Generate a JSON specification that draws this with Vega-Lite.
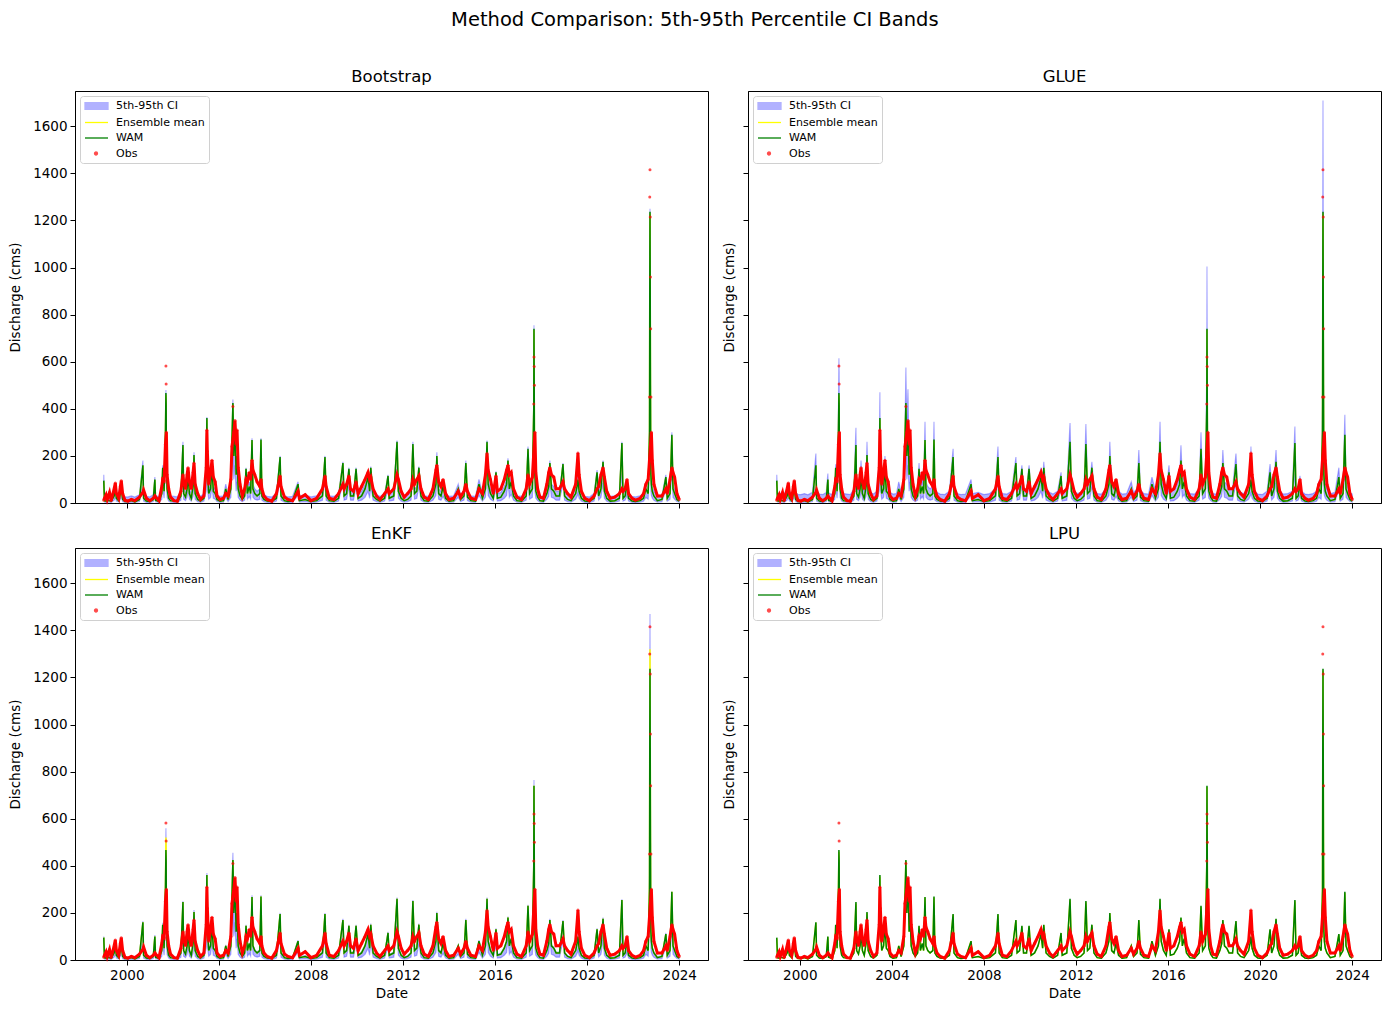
{
  "$schema": "https://vega.github.io/schema/vega-lite/v6.json",
  "background": "white",
  "padding": {"left": 8, "top": 9, "right": 9, "bottom": 8},
  "title": {"text": "Method Comparison: 5th-95th Percentile CI Bands", "fontSize": 19.5, "fontWeight": "normal", "font": "DejaVu Sans", "anchor": "middle", "offset": 38, "color": "black"},
  "config": {
    "font": "DejaVu Sans",
    "view": {"stroke": "black", "strokeWidth": 1},
    "axis": {"grid": false, "domainColor": "black", "tickColor": "black", "labelColor": "black", "titleColor": "black", "labelFontSize": 13.5, "titleFontSize": 13.5, "titleFontWeight": "normal", "tickSize": 5, "labelPadding": 3, "labelFont": "DejaVu Sans", "titleFont": "DejaVu Sans"},
    "title": {"fontSize": 16.5, "fontWeight": "normal", "offset": 6, "color": "black"},
    "legend": {"orient": "top-left", "offset": 5, "padding": 4, "strokeColor": "#d0d0d0", "fillColor": "white", "cornerRadius": 3, "labelFontSize": 11, "symbolSize": 100, "labelOffset": 20, "rowPadding": 4.5, "symbolStrokeWidth": 1.3}
  },
  "datasets": {
    "flow": [
      {"t":1999.00,"w":95,"o":12,"lo":50,"b":120,"g":120,"e":100,"l":97,"m":92,"n":95},
      {"t":1999.03,"w":10,"o":20,"lo":4,"b":30,"g":40,"e":14,"l":12,"m":10,"n":10},
      {"t":1999.10,"w":8,"o":35,"lo":3,"b":28,"g":38,"e":12,"l":10,"m":8,"n":8},
      {"t":1999.15,"w":12,"o":15,"lo":5,"b":32,"g":42,"e":16,"l":14,"m":12,"n":12},
      {"t":1999.25,"w":10,"o":45,"lo":4,"b":30,"g":40,"e":14,"l":12,"m":10,"n":10},
      {"t":1999.32,"w":8,"o":10,"lo":3,"b":28,"g":38,"e":12,"l":10,"m":8,"n":8},
      {"t":1999.45,"w":30,"o":60,"lo":12,"b":50,"g":60,"e":34,"l":32,"m":30,"n":30},
      {"t":1999.50,"w":60,"o":85,"lo":24,"b":80,"g":85,"e":64,"l":62,"m":60,"n":60},
      {"t":1999.55,"w":20,"o":40,"lo":8,"b":40,"g":50,"e":24,"l":22,"m":20,"n":20},
      {"t":1999.65,"w":10,"o":20,"lo":4,"b":30,"g":40,"e":14,"l":12,"m":10,"n":10},
      {"t":1999.72,"w":40,"o":70,"lo":16,"b":60,"g":70,"e":44,"l":42,"m":40,"n":40},
      {"t":1999.76,"w":70,"o":95,"lo":28,"b":85,"g":95,"e":74,"l":72,"m":70,"n":70},
      {"t":1999.82,"w":15,"o":40,"lo":6,"b":35,"g":45,"e":19,"l":17,"m":15,"n":15},
      {"t":1999.92,"w":6,"o":12,"lo":2,"b":26,"g":36,"e":10,"l":8,"m":6,"n":6},
      {"t":2000.05,"w":6,"o":8,"lo":2,"b":26,"g":36,"e":10,"l":8,"m":6,"n":6},
      {"t":2000.20,"w":10,"o":15,"lo":4,"b":30,"g":40,"e":14,"l":12,"m":10,"n":10},
      {"t":2000.35,"w":5,"o":10,"lo":2,"b":25,"g":35,"e":9,"l":7,"m":5,"n":5},
      {"t":2000.55,"w":15,"o":25,"lo":6,"b":35,"g":45,"e":19,"l":17,"m":15,"n":15},
      {"t":2000.70,"w":160,"o":45,"lo":90,"b":180,"g":210,"e":165,"l":162,"m":158,"n":160},
      {"t":2000.73,"w":20,"o":55,"lo":8,"b":40,"g":50,"e":24,"l":22,"m":20,"n":20},
      {"t":2000.85,"w":8,"o":20,"lo":3,"b":28,"g":38,"e":12,"l":10,"m":8,"n":8},
      {"t":2001.00,"w":6,"o":10,"lo":2,"b":26,"g":36,"e":10,"l":8,"m":6,"n":6},
      {"t":2001.15,"w":15,"o":20,"lo":6,"b":35,"g":45,"e":19,"l":17,"m":15,"n":15},
      {"t":2001.22,"w":100,"o":30,"lo":50,"b":110,"g":125,"e":106,"l":102,"m":98,"n":100},
      {"t":2001.25,"w":12,"o":25,"lo":5,"b":32,"g":42,"e":16,"l":14,"m":12,"n":12},
      {"t":2001.40,"w":6,"o":10,"lo":2,"b":26,"g":36,"e":10,"l":8,"m":6,"n":6},
      {"t":2001.52,"w":40,"o":70,"lo":16,"b":60,"g":70,"e":44,"l":42,"m":40,"n":40},
      {"t":2001.56,"w":150,"o":100,"lo":75,"b":160,"g":165,"e":158,"l":152,"m":148,"n":150},
      {"t":2001.62,"w":50,"o":95,"lo":20,"b":70,"g":80,"e":54,"l":52,"m":50,"n":50},
      {"t":2001.68,"w":300,"o":250,"lo":150,"b":320,"g":400,"e":330,"l":302,"m":300,"n":320},
      {"t":2001.70,"w":467,"o":582,"lo":300,"b":480,"g":615,"e":560,"l":470,"m":460,"n":520},
      {"t":2001.71,"w":420,"o":505,"lo":250,"b":440,"g":560,"e":500,"l":422,"m":420,"n":470},
      {"t":2001.72,"w":200,"o":300,"lo":100,"b":220,"g":280,"e":240,"l":202,"m":200,"n":220},
      {"t":2001.75,"w":60,"o":120,"lo":24,"b":80,"g":90,"e":70,"l":62,"m":60,"n":65},
      {"t":2001.82,"w":20,"o":60,"lo":8,"b":40,"g":50,"e":24,"l":22,"m":20,"n":20},
      {"t":2001.90,"w":10,"o":25,"lo":4,"b":30,"g":40,"e":14,"l":12,"m":10,"n":10},
      {"t":2002.05,"w":8,"o":10,"lo":3,"b":28,"g":38,"e":12,"l":10,"m":8,"n":8},
      {"t":2002.20,"w":6,"o":8,"lo":2,"b":26,"g":36,"e":10,"l":8,"m":6,"n":6},
      {"t":2002.35,"w":30,"o":50,"lo":12,"b":50,"g":60,"e":34,"l":32,"m":30,"n":30},
      {"t":2002.44,"w":246,"o":120,"lo":120,"b":260,"g":320,"e":250,"l":248,"m":240,"n":246},
      {"t":2002.47,"w":40,"o":90,"lo":16,"b":60,"g":70,"e":44,"l":42,"m":40,"n":40},
      {"t":2002.55,"w":25,"o":60,"lo":10,"b":45,"g":55,"e":29,"l":27,"m":25,"n":25},
      {"t":2002.62,"w":60,"o":120,"lo":24,"b":80,"g":90,"e":64,"l":62,"m":60,"n":60},
      {"t":2002.66,"w":127,"o":150,"lo":60,"b":140,"g":180,"e":135,"l":129,"m":125,"n":127},
      {"t":2002.72,"w":40,"o":90,"lo":16,"b":60,"g":70,"e":44,"l":42,"m":40,"n":40},
      {"t":2002.80,"w":20,"o":60,"lo":8,"b":40,"g":50,"e":24,"l":22,"m":20,"n":20},
      {"t":2002.88,"w":70,"o":130,"lo":28,"b":90,"g":100,"e":74,"l":72,"m":70,"n":70},
      {"t":2002.92,"w":204,"o":170,"lo":100,"b":215,"g":260,"e":212,"l":206,"m":200,"n":204},
      {"t":2002.97,"w":40,"o":80,"lo":16,"b":60,"g":70,"e":44,"l":42,"m":40,"n":40},
      {"t":2003.08,"w":15,"o":40,"lo":6,"b":35,"g":45,"e":19,"l":17,"m":15,"n":15},
      {"t":2003.20,"w":8,"o":15,"lo":3,"b":28,"g":38,"e":12,"l":10,"m":8,"n":8},
      {"t":2003.35,"w":20,"o":30,"lo":8,"b":40,"g":50,"e":24,"l":22,"m":20,"n":20},
      {"t":2003.45,"w":120,"o":150,"lo":50,"b":140,"g":170,"e":130,"l":122,"m":120,"n":120},
      {"t":2003.48,"w":361,"o":310,"lo":200,"b":365,"g":470,"e":370,"l":363,"m":355,"n":360},
      {"t":2003.50,"w":150,"o":220,"lo":60,"b":170,"g":200,"e":160,"l":152,"m":150,"n":150},
      {"t":2003.56,"w":40,"o":80,"lo":16,"b":60,"g":70,"e":44,"l":42,"m":40,"n":40},
      {"t":2003.64,"w":60,"o":130,"lo":24,"b":80,"g":90,"e":64,"l":62,"m":60,"n":60},
      {"t":2003.70,"w":150,"o":182,"lo":70,"b":175,"g":200,"e":158,"l":152,"m":148,"n":150},
      {"t":2003.76,"w":50,"o":110,"lo":20,"b":70,"g":80,"e":54,"l":52,"m":50,"n":50},
      {"t":2003.84,"w":40,"o":90,"lo":16,"b":60,"g":70,"e":44,"l":42,"m":40,"n":40},
      {"t":2003.92,"w":15,"o":30,"lo":6,"b":35,"g":45,"e":19,"l":17,"m":15,"n":15},
      {"t":2004.05,"w":8,"o":15,"lo":3,"b":28,"g":38,"e":12,"l":10,"m":8,"n":8},
      {"t":2004.20,"w":10,"o":20,"lo":4,"b":30,"g":40,"e":14,"l":12,"m":10,"n":10},
      {"t":2004.30,"w":60,"o":40,"lo":24,"b":80,"g":90,"e":64,"l":62,"m":60,"n":60},
      {"t":2004.40,"w":15,"o":30,"lo":6,"b":35,"g":45,"e":19,"l":17,"m":15,"n":15},
      {"t":2004.52,"w":60,"o":100,"lo":24,"b":80,"g":90,"e":64,"l":62,"m":60,"n":60},
      {"t":2004.57,"w":270,"o":240,"lo":130,"b":285,"g":300,"e":280,"l":272,"m":265,"n":270},
      {"t":2004.61,"w":425,"o":410,"lo":250,"b":440,"g":575,"e":455,"l":427,"m":420,"n":425},
      {"t":2004.65,"w":200,"o":300,"lo":100,"b":220,"g":300,"e":230,"l":202,"m":200,"n":210},
      {"t":2004.70,"w":330,"o":350,"lo":160,"b":345,"g":483,"e":350,"l":332,"m":325,"n":330},
      {"t":2004.75,"w":120,"o":250,"lo":50,"b":140,"g":170,"e":150,"l":122,"m":120,"n":125},
      {"t":2004.79,"w":200,"o":310,"lo":90,"b":210,"g":260,"e":230,"l":202,"m":200,"n":205},
      {"t":2004.84,"w":60,"o":150,"lo":24,"b":80,"g":90,"e":70,"l":62,"m":60,"n":60},
      {"t":2004.92,"w":30,"o":80,"lo":12,"b":50,"g":60,"e":34,"l":32,"m":30,"n":30},
      {"t":2005.02,"w":15,"o":30,"lo":6,"b":35,"g":45,"e":19,"l":17,"m":15,"n":15},
      {"t":2005.12,"w":30,"o":60,"lo":12,"b":50,"g":60,"e":34,"l":32,"m":30,"n":30},
      {"t":2005.18,"w":145,"o":100,"lo":70,"b":150,"g":170,"e":150,"l":147,"m":142,"n":145},
      {"t":2005.24,"w":40,"o":90,"lo":16,"b":60,"g":70,"e":44,"l":42,"m":40,"n":40},
      {"t":2005.32,"w":70,"o":130,"lo":28,"b":90,"g":100,"e":74,"l":72,"m":70,"n":70},
      {"t":2005.38,"w":40,"o":100,"lo":16,"b":60,"g":70,"e":44,"l":42,"m":40,"n":40},
      {"t":2005.44,"w":268,"o":182,"lo":130,"b":275,"g":345,"e":275,"l":270,"m":265,"n":268},
      {"t":2005.48,"w":60,"o":140,"lo":24,"b":80,"g":90,"e":64,"l":62,"m":60,"n":60},
      {"t":2005.56,"w":40,"o":120,"lo":16,"b":60,"g":70,"e":44,"l":42,"m":40,"n":40},
      {"t":2005.66,"w":30,"o":90,"lo":12,"b":50,"g":60,"e":34,"l":32,"m":30,"n":30},
      {"t":2005.78,"w":40,"o":70,"lo":16,"b":60,"g":70,"e":44,"l":42,"m":40,"n":40},
      {"t":2005.83,"w":270,"o":100,"lo":130,"b":275,"g":345,"e":275,"l":272,"m":265,"n":270},
      {"t":2005.87,"w":30,"o":60,"lo":12,"b":50,"g":60,"e":34,"l":32,"m":30,"n":30},
      {"t":2005.96,"w":15,"o":30,"lo":6,"b":35,"g":45,"e":19,"l":17,"m":15,"n":15},
      {"t":2006.10,"w":8,"o":15,"lo":3,"b":28,"g":38,"e":12,"l":10,"m":8,"n":8},
      {"t":2006.30,"w":6,"o":8,"lo":2,"b":26,"g":36,"e":10,"l":8,"m":6,"n":6},
      {"t":2006.50,"w":20,"o":40,"lo":8,"b":40,"g":50,"e":24,"l":22,"m":20,"n":20},
      {"t":2006.66,"w":195,"o":115,"lo":95,"b":200,"g":230,"e":200,"l":197,"m":192,"n":195},
      {"t":2006.70,"w":30,"o":70,"lo":12,"b":50,"g":60,"e":34,"l":32,"m":30,"n":30},
      {"t":2006.85,"w":10,"o":25,"lo":4,"b":30,"g":40,"e":14,"l":12,"m":10,"n":10},
      {"t":2007.00,"w":6,"o":15,"lo":2,"b":26,"g":36,"e":10,"l":8,"m":6,"n":6},
      {"t":2007.20,"w":8,"o":10,"lo":3,"b":28,"g":38,"e":12,"l":10,"m":8,"n":8},
      {"t":2007.44,"w":80,"o":50,"lo":32,"b":90,"g":100,"e":84,"l":82,"m":80,"n":80},
      {"t":2007.50,"w":10,"o":20,"lo":4,"b":30,"g":40,"e":14,"l":12,"m":10,"n":10},
      {"t":2007.75,"w":15,"o":35,"lo":6,"b":35,"g":45,"e":19,"l":17,"m":15,"n":15},
      {"t":2008.00,"w":6,"o":10,"lo":2,"b":26,"g":36,"e":10,"l":8,"m":6,"n":6},
      {"t":2008.25,"w":10,"o":20,"lo":4,"b":30,"g":40,"e":14,"l":12,"m":10,"n":10},
      {"t":2008.50,"w":30,"o":60,"lo":12,"b":50,"g":60,"e":34,"l":32,"m":30,"n":30},
      {"t":2008.61,"w":195,"o":115,"lo":95,"b":200,"g":240,"e":200,"l":197,"m":192,"n":195},
      {"t":2008.66,"w":30,"o":70,"lo":12,"b":50,"g":60,"e":34,"l":32,"m":30,"n":30},
      {"t":2008.80,"w":10,"o":20,"lo":4,"b":30,"g":40,"e":14,"l":12,"m":10,"n":10},
      {"t":2009.00,"w":8,"o":15,"lo":3,"b":28,"g":38,"e":12,"l":10,"m":8,"n":8},
      {"t":2009.20,"w":20,"o":40,"lo":8,"b":40,"g":50,"e":24,"l":22,"m":20,"n":20},
      {"t":2009.39,"w":170,"o":80,"lo":85,"b":175,"g":195,"e":175,"l":172,"m":168,"n":170},
      {"t":2009.44,"w":30,"o":60,"lo":12,"b":50,"g":60,"e":34,"l":32,"m":30,"n":30},
      {"t":2009.55,"w":40,"o":80,"lo":16,"b":60,"g":70,"e":44,"l":42,"m":40,"n":40},
      {"t":2009.65,"w":145,"o":115,"lo":70,"b":150,"g":160,"e":150,"l":147,"m":142,"n":145},
      {"t":2009.72,"w":30,"o":60,"lo":12,"b":50,"g":60,"e":34,"l":32,"m":30,"n":30},
      {"t":2009.85,"w":30,"o":50,"lo":12,"b":50,"g":60,"e":34,"l":32,"m":30,"n":30},
      {"t":2009.96,"w":145,"o":90,"lo":70,"b":150,"g":160,"e":150,"l":147,"m":142,"n":145},
      {"t":2010.05,"w":20,"o":40,"lo":8,"b":40,"g":50,"e":24,"l":22,"m":20,"n":20},
      {"t":2010.20,"w":30,"o":70,"lo":12,"b":50,"g":60,"e":34,"l":32,"m":30,"n":30},
      {"t":2010.35,"w":60,"o":100,"lo":24,"b":80,"g":90,"e":64,"l":62,"m":60,"n":60},
      {"t":2010.48,"w":110,"o":130,"lo":50,"b":130,"g":150,"e":116,"l":112,"m":108,"n":110},
      {"t":2010.55,"w":50,"o":100,"lo":20,"b":70,"g":80,"e":54,"l":52,"m":50,"n":50},
      {"t":2010.60,"w":150,"o":110,"lo":70,"b":155,"g":175,"e":155,"l":152,"m":148,"n":150},
      {"t":2010.70,"w":30,"o":60,"lo":12,"b":50,"g":60,"e":34,"l":32,"m":30,"n":30},
      {"t":2010.85,"w":15,"o":30,"lo":6,"b":35,"g":45,"e":19,"l":17,"m":15,"n":15},
      {"t":2011.00,"w":8,"o":15,"lo":3,"b":28,"g":38,"e":12,"l":10,"m":8,"n":8},
      {"t":2011.20,"w":20,"o":40,"lo":8,"b":40,"g":50,"e":24,"l":22,"m":20,"n":20},
      {"t":2011.35,"w":115,"o":60,"lo":55,"b":120,"g":130,"e":120,"l":117,"m":113,"n":115},
      {"t":2011.40,"w":20,"o":40,"lo":8,"b":40,"g":50,"e":24,"l":22,"m":20,"n":20},
      {"t":2011.60,"w":30,"o":60,"lo":12,"b":50,"g":60,"e":34,"l":32,"m":30,"n":30},
      {"t":2011.74,"w":260,"o":120,"lo":130,"b":265,"g":340,"e":265,"l":262,"m":255,"n":260},
      {"t":2011.80,"w":50,"o":100,"lo":20,"b":70,"g":80,"e":54,"l":52,"m":50,"n":50},
      {"t":2011.92,"w":20,"o":50,"lo":8,"b":40,"g":50,"e":24,"l":22,"m":20,"n":20},
      {"t":2012.05,"w":10,"o":25,"lo":4,"b":30,"g":40,"e":14,"l":12,"m":10,"n":10},
      {"t":2012.20,"w":15,"o":40,"lo":6,"b":35,"g":45,"e":19,"l":17,"m":15,"n":15},
      {"t":2012.35,"w":30,"o":60,"lo":12,"b":50,"g":60,"e":34,"l":32,"m":30,"n":30},
      {"t":2012.43,"w":250,"o":100,"lo":120,"b":260,"g":335,"e":255,"l":252,"m":245,"n":250},
      {"t":2012.50,"w":40,"o":80,"lo":16,"b":60,"g":70,"e":44,"l":42,"m":40,"n":40},
      {"t":2012.60,"w":50,"o":100,"lo":20,"b":70,"g":80,"e":54,"l":52,"m":50,"n":50},
      {"t":2012.69,"w":150,"o":115,"lo":70,"b":155,"g":175,"e":155,"l":152,"m":148,"n":150},
      {"t":2012.78,"w":30,"o":60,"lo":12,"b":50,"g":60,"e":34,"l":32,"m":30,"n":30},
      {"t":2012.92,"w":10,"o":25,"lo":4,"b":30,"g":40,"e":14,"l":12,"m":10,"n":10},
      {"t":2013.10,"w":8,"o":15,"lo":3,"b":28,"g":38,"e":12,"l":10,"m":8,"n":8},
      {"t":2013.30,"w":30,"o":60,"lo":12,"b":50,"g":60,"e":34,"l":32,"m":30,"n":30},
      {"t":2013.43,"w":80,"o":140,"lo":32,"b":100,"g":110,"e":84,"l":82,"m":80,"n":80},
      {"t":2013.47,"w":200,"o":160,"lo":100,"b":215,"g":260,"e":205,"l":202,"m":198,"n":200},
      {"t":2013.55,"w":40,"o":90,"lo":16,"b":60,"g":70,"e":44,"l":42,"m":40,"n":40},
      {"t":2013.65,"w":30,"o":70,"lo":12,"b":50,"g":60,"e":34,"l":32,"m":30,"n":30},
      {"t":2013.74,"w":70,"o":100,"lo":28,"b":90,"g":100,"e":74,"l":72,"m":70,"n":70},
      {"t":2013.85,"w":20,"o":40,"lo":8,"b":40,"g":50,"e":24,"l":22,"m":20,"n":20},
      {"t":2014.00,"w":8,"o":15,"lo":3,"b":28,"g":38,"e":12,"l":10,"m":8,"n":8},
      {"t":2014.20,"w":10,"o":20,"lo":4,"b":30,"g":40,"e":14,"l":12,"m":10,"n":10},
      {"t":2014.40,"w":60,"o":50,"lo":24,"b":80,"g":90,"e":64,"l":62,"m":60,"n":60},
      {"t":2014.50,"w":15,"o":25,"lo":6,"b":35,"g":45,"e":19,"l":17,"m":15,"n":15},
      {"t":2014.65,"w":30,"o":50,"lo":12,"b":50,"g":60,"e":34,"l":32,"m":30,"n":30},
      {"t":2014.73,"w":170,"o":80,"lo":85,"b":180,"g":225,"e":175,"l":172,"m":168,"n":170},
      {"t":2014.80,"w":25,"o":50,"lo":10,"b":45,"g":55,"e":29,"l":27,"m":25,"n":25},
      {"t":2014.95,"w":10,"o":20,"lo":4,"b":30,"g":40,"e":14,"l":12,"m":10,"n":10},
      {"t":2015.15,"w":8,"o":15,"lo":3,"b":28,"g":38,"e":12,"l":10,"m":8,"n":8},
      {"t":2015.30,"w":80,"o":60,"lo":32,"b":100,"g":110,"e":84,"l":82,"m":80,"n":80},
      {"t":2015.45,"w":20,"o":40,"lo":8,"b":40,"g":50,"e":24,"l":22,"m":20,"n":20},
      {"t":2015.58,"w":60,"o":120,"lo":24,"b":80,"g":90,"e":64,"l":62,"m":60,"n":60},
      {"t":2015.65,"w":260,"o":210,"lo":130,"b":265,"g":345,"e":265,"l":262,"m":255,"n":260},
      {"t":2015.70,"w":80,"o":140,"lo":32,"b":100,"g":110,"e":84,"l":82,"m":80,"n":80},
      {"t":2015.80,"w":40,"o":100,"lo":16,"b":60,"g":70,"e":44,"l":42,"m":40,"n":40},
      {"t":2015.92,"w":20,"o":40,"lo":8,"b":40,"g":50,"e":24,"l":22,"m":20,"n":20},
      {"t":2016.04,"w":130,"o":115,"lo":60,"b":135,"g":160,"e":135,"l":132,"m":128,"n":130},
      {"t":2016.10,"w":20,"o":50,"lo":8,"b":40,"g":50,"e":24,"l":22,"m":20,"n":20},
      {"t":2016.25,"w":25,"o":60,"lo":10,"b":45,"g":55,"e":29,"l":27,"m":25,"n":25},
      {"t":2016.40,"w":50,"o":100,"lo":20,"b":70,"g":80,"e":54,"l":52,"m":50,"n":50},
      {"t":2016.50,"w":80,"o":140,"lo":32,"b":100,"g":110,"e":84,"l":82,"m":80,"n":80},
      {"t":2016.56,"w":180,"o":160,"lo":90,"b":190,"g":245,"e":185,"l":182,"m":178,"n":180},
      {"t":2016.62,"w":60,"o":120,"lo":24,"b":80,"g":90,"e":64,"l":62,"m":60,"n":60},
      {"t":2016.70,"w":90,"o":130,"lo":36,"b":110,"g":120,"e":94,"l":92,"m":90,"n":90},
      {"t":2016.80,"w":30,"o":60,"lo":12,"b":50,"g":60,"e":34,"l":32,"m":30,"n":30},
      {"t":2016.95,"w":10,"o":25,"lo":4,"b":30,"g":40,"e":14,"l":12,"m":10,"n":10},
      {"t":2017.15,"w":8,"o":15,"lo":3,"b":28,"g":38,"e":12,"l":10,"m":8,"n":8},
      {"t":2017.35,"w":30,"o":60,"lo":12,"b":50,"g":60,"e":34,"l":32,"m":30,"n":30},
      {"t":2017.43,"w":230,"o":120,"lo":110,"b":240,"g":300,"e":235,"l":232,"m":225,"n":230},
      {"t":2017.50,"w":40,"o":80,"lo":16,"b":60,"g":70,"e":44,"l":42,"m":40,"n":40},
      {"t":2017.62,"w":60,"o":110,"lo":24,"b":80,"g":90,"e":64,"l":62,"m":60,"n":60},
      {"t":2017.68,"w":400,"o":420,"lo":200,"b":420,"g":550,"e":420,"l":402,"m":395,"n":400},
      {"t":2017.69,"w":740,"o":620,"lo":450,"b":755,"g":1005,"e":765,"l":745,"m":735,"n":740},
      {"t":2017.70,"w":500,"o":580,"lo":250,"b":520,"g":700,"e":530,"l":502,"m":495,"n":500},
      {"t":2017.71,"w":250,"o":500,"lo":120,"b":270,"g":350,"e":270,"l":252,"m":248,"n":250},
      {"t":2017.73,"w":120,"o":300,"lo":50,"b":140,"g":170,"e":130,"l":122,"m":120,"n":120},
      {"t":2017.77,"w":50,"o":130,"lo":20,"b":70,"g":80,"e":54,"l":52,"m":50,"n":50},
      {"t":2017.85,"w":25,"o":60,"lo":10,"b":45,"g":55,"e":29,"l":27,"m":25,"n":25},
      {"t":2017.95,"w":10,"o":25,"lo":4,"b":30,"g":40,"e":14,"l":12,"m":10,"n":10},
      {"t":2018.10,"w":8,"o":20,"lo":3,"b":28,"g":38,"e":12,"l":10,"m":8,"n":8},
      {"t":2018.25,"w":40,"o":80,"lo":16,"b":60,"g":70,"e":44,"l":42,"m":40,"n":40},
      {"t":2018.33,"w":70,"o":130,"lo":28,"b":90,"g":100,"e":74,"l":72,"m":70,"n":70},
      {"t":2018.38,"w":170,"o":150,"lo":85,"b":180,"g":225,"e":175,"l":172,"m":168,"n":170},
      {"t":2018.45,"w":60,"o":120,"lo":24,"b":80,"g":90,"e":64,"l":62,"m":60,"n":60},
      {"t":2018.55,"w":50,"o":110,"lo":20,"b":70,"g":80,"e":54,"l":52,"m":50,"n":50},
      {"t":2018.65,"w":30,"o":60,"lo":12,"b":50,"g":60,"e":34,"l":32,"m":30,"n":30},
      {"t":2018.80,"w":30,"o":60,"lo":12,"b":50,"g":60,"e":34,"l":32,"m":30,"n":30},
      {"t":2018.95,"w":165,"o":90,"lo":80,"b":170,"g":210,"e":170,"l":167,"m":163,"n":165},
      {"t":2019.02,"w":30,"o":60,"lo":12,"b":50,"g":60,"e":34,"l":32,"m":30,"n":30},
      {"t":2019.15,"w":15,"o":40,"lo":6,"b":35,"g":45,"e":19,"l":17,"m":15,"n":15},
      {"t":2019.30,"w":10,"o":25,"lo":4,"b":30,"g":40,"e":14,"l":12,"m":10,"n":10},
      {"t":2019.50,"w":40,"o":80,"lo":16,"b":60,"g":70,"e":44,"l":42,"m":40,"n":40},
      {"t":2019.58,"w":80,"o":180,"lo":32,"b":100,"g":110,"e":84,"l":82,"m":80,"n":80},
      {"t":2019.60,"w":100,"o":212,"lo":45,"b":215,"g":240,"e":110,"l":102,"m":100,"n":100},
      {"t":2019.65,"w":50,"o":120,"lo":20,"b":70,"g":80,"e":54,"l":52,"m":50,"n":50},
      {"t":2019.75,"w":20,"o":50,"lo":8,"b":40,"g":50,"e":24,"l":22,"m":20,"n":20},
      {"t":2019.90,"w":8,"o":20,"lo":3,"b":28,"g":38,"e":12,"l":10,"m":8,"n":8},
      {"t":2020.10,"w":6,"o":10,"lo":2,"b":26,"g":36,"e":10,"l":8,"m":6,"n":6},
      {"t":2020.30,"w":20,"o":30,"lo":8,"b":40,"g":50,"e":24,"l":22,"m":20,"n":20},
      {"t":2020.43,"w":130,"o":60,"lo":60,"b":140,"g":165,"e":135,"l":132,"m":128,"n":130},
      {"t":2020.50,"w":30,"o":70,"lo":12,"b":50,"g":60,"e":34,"l":32,"m":30,"n":30},
      {"t":2020.60,"w":60,"o":120,"lo":24,"b":80,"g":90,"e":64,"l":62,"m":60,"n":60},
      {"t":2020.69,"w":175,"o":150,"lo":85,"b":180,"g":225,"e":180,"l":177,"m":172,"n":175},
      {"t":2020.75,"w":50,"o":110,"lo":20,"b":70,"g":80,"e":54,"l":52,"m":50,"n":50},
      {"t":2020.85,"w":20,"o":50,"lo":8,"b":40,"g":50,"e":24,"l":22,"m":20,"n":20},
      {"t":2021.00,"w":8,"o":20,"lo":3,"b":28,"g":38,"e":12,"l":10,"m":8,"n":8},
      {"t":2021.20,"w":10,"o":25,"lo":4,"b":30,"g":40,"e":14,"l":12,"m":10,"n":10},
      {"t":2021.40,"w":20,"o":40,"lo":8,"b":40,"g":50,"e":24,"l":22,"m":20,"n":20},
      {"t":2021.51,"w":255,"o":60,"lo":125,"b":260,"g":325,"e":258,"l":257,"m":250,"n":255},
      {"t":2021.56,"w":20,"o":50,"lo":8,"b":40,"g":50,"e":24,"l":22,"m":20,"n":20},
      {"t":2021.65,"w":30,"o":60,"lo":12,"b":50,"g":60,"e":34,"l":32,"m":30,"n":30},
      {"t":2021.73,"w":80,"o":100,"lo":32,"b":90,"g":115,"e":84,"l":82,"m":80,"n":80},
      {"t":2021.80,"w":20,"o":40,"lo":8,"b":40,"g":50,"e":24,"l":22,"m":20,"n":20},
      {"t":2021.95,"w":8,"o":20,"lo":3,"b":28,"g":38,"e":12,"l":10,"m":8,"n":8},
      {"t":2022.10,"w":6,"o":12,"lo":2,"b":26,"g":36,"e":10,"l":8,"m":6,"n":6},
      {"t":2022.30,"w":10,"o":20,"lo":4,"b":30,"g":40,"e":14,"l":12,"m":10,"n":10},
      {"t":2022.45,"w":20,"o":40,"lo":8,"b":40,"g":50,"e":24,"l":22,"m":20,"n":20},
      {"t":2022.55,"w":60,"o":80,"lo":24,"b":80,"g":90,"e":64,"l":62,"m":60,"n":60},
      {"t":2022.65,"w":40,"o":100,"lo":16,"b":60,"g":70,"e":44,"l":42,"m":40,"n":40},
      {"t":2022.71,"w":300,"o":450,"lo":150,"b":320,"g":420,"e":360,"l":302,"m":300,"n":330},
      {"t":2022.72,"w":900,"o":1300,"lo":500,"b":920,"g":1250,"e":1100,"l":905,"m":895,"n":980},
      {"t":2022.73,"w":1237,"o":1415,"lo":800,"b":1250,"g":1710,"e":1470,"l":1240,"m":1230,"n":1320},
      {"t":2022.74,"w":900,"o":1215,"lo":500,"b":920,"g":1250,"e":1100,"l":905,"m":895,"n":980},
      {"t":2022.75,"w":500,"o":960,"lo":250,"b":520,"g":700,"e":600,"l":505,"m":495,"n":550},
      {"t":2022.76,"w":250,"o":740,"lo":120,"b":270,"g":350,"e":300,"l":252,"m":248,"n":270},
      {"t":2022.77,"w":120,"o":450,"lo":50,"b":140,"g":170,"e":140,"l":122,"m":120,"n":130},
      {"t":2022.79,"w":80,"o":300,"lo":32,"b":100,"g":110,"e":90,"l":82,"m":80,"n":85},
      {"t":2022.83,"w":50,"o":180,"lo":20,"b":70,"g":80,"e":54,"l":52,"m":50,"n":50},
      {"t":2022.90,"w":30,"o":80,"lo":12,"b":50,"g":60,"e":34,"l":32,"m":30,"n":30},
      {"t":2023.05,"w":10,"o":30,"lo":4,"b":30,"g":40,"e":14,"l":12,"m":10,"n":10},
      {"t":2023.25,"w":15,"o":30,"lo":6,"b":35,"g":45,"e":19,"l":17,"m":15,"n":15},
      {"t":2023.42,"w":110,"o":60,"lo":55,"b":120,"g":150,"e":115,"l":112,"m":108,"n":110},
      {"t":2023.48,"w":20,"o":40,"lo":8,"b":40,"g":50,"e":24,"l":22,"m":20,"n":20},
      {"t":2023.60,"w":40,"o":100,"lo":16,"b":60,"g":70,"e":44,"l":42,"m":40,"n":40},
      {"t":2023.68,"w":290,"o":150,"lo":140,"b":300,"g":375,"e":290,"l":292,"m":285,"n":290},
      {"t":2023.73,"w":60,"o":130,"lo":24,"b":80,"g":90,"e":64,"l":62,"m":60,"n":60},
      {"t":2023.80,"w":40,"o":110,"lo":16,"b":60,"g":70,"e":44,"l":42,"m":40,"n":40},
      {"t":2023.90,"w":15,"o":40,"lo":6,"b":35,"g":45,"e":19,"l":17,"m":15,"n":15},
      {"t":2024.00,"w":8,"o":15,"lo":3,"b":28,"g":38,"e":12,"l":10,"m":8,"n":8}
    ]
  },
  "columns": 2,
  "spacing": {"row": 15, "column": 13},
  "resolve": {"scale": {"color": "independent"}, "legend": {"color": "independent"}},
  "concat": [
    {
      "title": "Bootstrap",
      "width": 633, "height": 412,
      "data": {"name": "flow"},
      "encoding": {"x": {"field": "t", "type": "quantitative", "scale": {"domain": [1997.75, 2025.25], "nice": false, "zero": false}, "axis": {"values": [2000, 2004, 2008, 2012, 2016, 2020, 2024], "format": "d", "labels": false, "title": null}}},
      "layer": [
        {"mark": {"type": "area", "opacity": 0.3}, "encoding": {
          "y": {"field": "lo", "type": "quantitative", "scale": {"domain": [0, 1750], "nice": false}, "axis": {"values": [0, 200, 400, 600, 800, 1000, 1200, 1400, 1600], "format": "d", "title": "Discharge (cms)", "titlePadding": 10}},
          "y2": {"field": "b"},
          "color": {"datum": "5th-95th CI", "scale": {"domain": ["5th-95th CI", "Ensemble mean", "WAM", "Obs"], "range": ["#0000ff", "#ffff00", "#008000", "#ff0000"]}, "legend": {"title": null,
            "symbolType": {"expr": "datum.value === 'Obs' ? 'M1.5,0A0.3,0.3,0,1,1,0.9,0A0.3,0.3,0,1,1,1.5,0Z' : datum.value === '5th-95th CI' ? 'M-1,-0.65H3.6V0.65H-1Z' : 'M-1,0H3.6'"},
            "symbolStrokeColor": {"expr": "datum.value === 'Ensemble mean' ? '#ffff00' : datum.value === 'WAM' ? '#008000' : datum.value === '5th-95th CI' ? '#0000ff' : 'transparent'"},
            "symbolOpacity": {"expr": "datum.value === '5th-95th CI' ? 0.3 : datum.value === 'Obs' ? 0.7 : 1"}}}}},
        {"mark": {"type": "area", "fillOpacity": 0, "stroke": "#0000ff", "strokeOpacity": 0.3, "strokeWidth": 1.2}, "encoding": {"y": {"field": "lo", "type": "quantitative"}, "y2": {"field": "b"}}},
        {"mark": {"type": "line", "strokeWidth": 1.5}, "encoding": {"y": {"field": "m", "type": "quantitative"}, "color": {"datum": "Ensemble mean", "legend": null}}},
        {"mark": {"type": "line", "strokeWidth": 1.5}, "encoding": {"y": {"field": "w", "type": "quantitative"}, "color": {"datum": "WAM", "legend": null}}},
        {"transform": [{"filter": "datum.o < 400"}], "mark": {"type": "line", "strokeWidth": 3}, "encoding": {"y": {"field": "o", "type": "quantitative"}, "color": {"datum": "Obs", "legend": null}}},
        {"mark": {"type": "point", "filled": true, "size": 9, "opacity": 0.7}, "encoding": {"y": {"field": "o", "type": "quantitative"}, "color": {"datum": "Obs", "legend": null}}}
      ]
    },
    {
      "title": "GLUE",
      "width": 633, "height": 412,
      "data": {"name": "flow"},
      "encoding": {"x": {"field": "t", "type": "quantitative", "scale": {"domain": [1997.75, 2025.25], "nice": false, "zero": false}, "axis": {"values": [2000, 2004, 2008, 2012, 2016, 2020, 2024], "format": "d", "labels": false, "title": null}}},
      "layer": [
        {"mark": {"type": "area", "opacity": 0.3}, "encoding": {
          "y": {"field": "lo", "type": "quantitative", "scale": {"domain": [0, 1750], "nice": false}, "axis": {"values": [0, 200, 400, 600, 800, 1000, 1200, 1400, 1600], "labels": false, "title": "Discharge (cms)", "titlePadding": 6}},
          "y2": {"field": "g"},
          "color": {"datum": "5th-95th CI", "scale": {"domain": ["5th-95th CI", "Ensemble mean", "WAM", "Obs"], "range": ["#0000ff", "#ffff00", "#008000", "#ff0000"]}, "legend": {"title": null,
            "symbolType": {"expr": "datum.value === 'Obs' ? 'M1.5,0A0.3,0.3,0,1,1,0.9,0A0.3,0.3,0,1,1,1.5,0Z' : datum.value === '5th-95th CI' ? 'M-1,-0.65H3.6V0.65H-1Z' : 'M-1,0H3.6'"},
            "symbolStrokeColor": {"expr": "datum.value === 'Ensemble mean' ? '#ffff00' : datum.value === 'WAM' ? '#008000' : datum.value === '5th-95th CI' ? '#0000ff' : 'transparent'"},
            "symbolOpacity": {"expr": "datum.value === '5th-95th CI' ? 0.3 : datum.value === 'Obs' ? 0.7 : 1"}}}}},
        {"mark": {"type": "area", "fillOpacity": 0, "stroke": "#0000ff", "strokeOpacity": 0.3, "strokeWidth": 1.2}, "encoding": {"y": {"field": "lo", "type": "quantitative"}, "y2": {"field": "g"}}},
        {"mark": {"type": "line", "strokeWidth": 1.5}, "encoding": {"y": {"field": "m", "type": "quantitative"}, "color": {"datum": "Ensemble mean", "legend": null}}},
        {"mark": {"type": "line", "strokeWidth": 1.5}, "encoding": {"y": {"field": "w", "type": "quantitative"}, "color": {"datum": "WAM", "legend": null}}},
        {"transform": [{"filter": "datum.o < 400"}], "mark": {"type": "line", "strokeWidth": 3}, "encoding": {"y": {"field": "o", "type": "quantitative"}, "color": {"datum": "Obs", "legend": null}}},
        {"mark": {"type": "point", "filled": true, "size": 9, "opacity": 0.7}, "encoding": {"y": {"field": "o", "type": "quantitative"}, "color": {"datum": "Obs", "legend": null}}}
      ]
    },
    {
      "title": "EnKF",
      "width": 633, "height": 412,
      "data": {"name": "flow"},
      "encoding": {"x": {"field": "t", "type": "quantitative", "scale": {"domain": [1997.75, 2025.25], "nice": false, "zero": false}, "axis": {"values": [2000, 2004, 2008, 2012, 2016, 2020, 2024], "format": "d", "title": "Date", "titlePadding": 5}}},
      "layer": [
        {"mark": {"type": "area", "opacity": 0.3}, "encoding": {
          "y": {"field": "lo", "type": "quantitative", "scale": {"domain": [0, 1750], "nice": false}, "axis": {"values": [0, 200, 400, 600, 800, 1000, 1200, 1400, 1600], "format": "d", "title": "Discharge (cms)", "titlePadding": 10}},
          "y2": {"field": "e"},
          "color": {"datum": "5th-95th CI", "scale": {"domain": ["5th-95th CI", "Ensemble mean", "WAM", "Obs"], "range": ["#0000ff", "#ffff00", "#008000", "#ff0000"]}, "legend": {"title": null,
            "symbolType": {"expr": "datum.value === 'Obs' ? 'M1.5,0A0.3,0.3,0,1,1,0.9,0A0.3,0.3,0,1,1,1.5,0Z' : datum.value === '5th-95th CI' ? 'M-1,-0.65H3.6V0.65H-1Z' : 'M-1,0H3.6'"},
            "symbolStrokeColor": {"expr": "datum.value === 'Ensemble mean' ? '#ffff00' : datum.value === 'WAM' ? '#008000' : datum.value === '5th-95th CI' ? '#0000ff' : 'transparent'"},
            "symbolOpacity": {"expr": "datum.value === '5th-95th CI' ? 0.3 : datum.value === 'Obs' ? 0.7 : 1"}}}}},
        {"mark": {"type": "area", "fillOpacity": 0, "stroke": "#0000ff", "strokeOpacity": 0.3, "strokeWidth": 1.2}, "encoding": {"y": {"field": "lo", "type": "quantitative"}, "y2": {"field": "e"}}},
        {"mark": {"type": "line", "strokeWidth": 1.5}, "encoding": {"y": {"field": "n", "type": "quantitative"}, "color": {"datum": "Ensemble mean", "legend": null}}},
        {"mark": {"type": "line", "strokeWidth": 1.5}, "encoding": {"y": {"field": "w", "type": "quantitative"}, "color": {"datum": "WAM", "legend": null}}},
        {"transform": [{"filter": "datum.o < 400"}], "mark": {"type": "line", "strokeWidth": 3}, "encoding": {"y": {"field": "o", "type": "quantitative"}, "color": {"datum": "Obs", "legend": null}}},
        {"mark": {"type": "point", "filled": true, "size": 9, "opacity": 0.7}, "encoding": {"y": {"field": "o", "type": "quantitative"}, "color": {"datum": "Obs", "legend": null}}}
      ]
    },
    {
      "title": "LPU",
      "width": 633, "height": 412,
      "data": {"name": "flow"},
      "encoding": {"x": {"field": "t", "type": "quantitative", "scale": {"domain": [1997.75, 2025.25], "nice": false, "zero": false}, "axis": {"values": [2000, 2004, 2008, 2012, 2016, 2020, 2024], "format": "d", "title": "Date", "titlePadding": 5}}},
      "layer": [
        {"mark": {"type": "area", "opacity": 0.3}, "encoding": {
          "y": {"field": "w", "type": "quantitative", "scale": {"domain": [0, 1750], "nice": false}, "axis": {"values": [0, 200, 400, 600, 800, 1000, 1200, 1400, 1600], "labels": false, "title": "Discharge (cms)", "titlePadding": 6}},
          "y2": {"field": "l"},
          "color": {"datum": "5th-95th CI", "scale": {"domain": ["5th-95th CI", "Ensemble mean", "WAM", "Obs"], "range": ["#0000ff", "#ffff00", "#008000", "#ff0000"]}, "legend": {"title": null,
            "symbolType": {"expr": "datum.value === 'Obs' ? 'M1.5,0A0.3,0.3,0,1,1,0.9,0A0.3,0.3,0,1,1,1.5,0Z' : datum.value === '5th-95th CI' ? 'M-1,-0.65H3.6V0.65H-1Z' : 'M-1,0H3.6'"},
            "symbolStrokeColor": {"expr": "datum.value === 'Ensemble mean' ? '#ffff00' : datum.value === 'WAM' ? '#008000' : datum.value === '5th-95th CI' ? '#0000ff' : 'transparent'"},
            "symbolOpacity": {"expr": "datum.value === '5th-95th CI' ? 0.3 : datum.value === 'Obs' ? 0.7 : 1"}}}}},
        {"mark": {"type": "line", "strokeWidth": 1.5}, "encoding": {"y": {"field": "m", "type": "quantitative"}, "color": {"datum": "Ensemble mean", "legend": null}}},
        {"mark": {"type": "line", "strokeWidth": 1.5}, "encoding": {"y": {"field": "w", "type": "quantitative"}, "color": {"datum": "WAM", "legend": null}}},
        {"transform": [{"filter": "datum.o < 400"}], "mark": {"type": "line", "strokeWidth": 3}, "encoding": {"y": {"field": "o", "type": "quantitative"}, "color": {"datum": "Obs", "legend": null}}},
        {"mark": {"type": "point", "filled": true, "size": 9, "opacity": 0.7}, "encoding": {"y": {"field": "o", "type": "quantitative"}, "color": {"datum": "Obs", "legend": null}}}
      ]
    }
  ]
}
